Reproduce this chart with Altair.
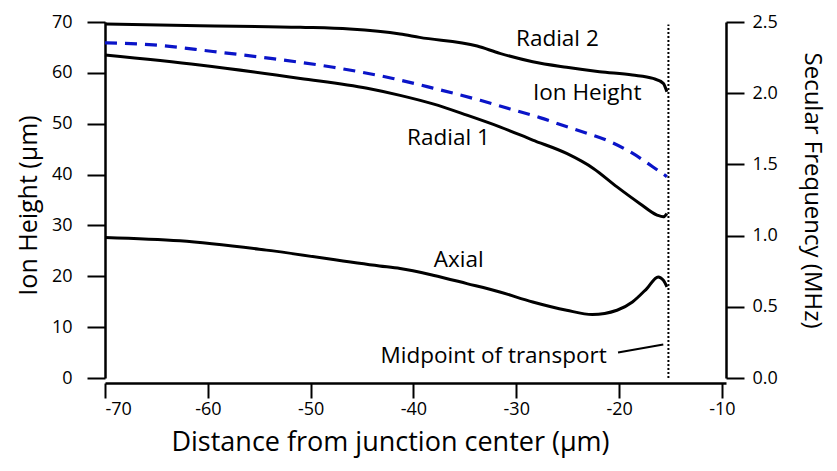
import altair as alt
import pandas as pd

FONT = "Open Sans"

# ---- data ----
# Secular frequencies (MHz)
r2_x = [-70.0, -60.8, -51.0, -46.2, -41.3, -39.4, -33.8, -31.6, -28.4, -25.1, -21.9, -18.7, -16.7, -15.7, -15.35]
r2_f = [2.486, 2.474, 2.463, 2.451, 2.416, 2.392, 2.331, 2.280, 2.221, 2.182, 2.151, 2.128, 2.104, 2.069, 2.010]

r1_x = [-70.0, -60.8, -51.0, -44.5, -41.3, -38.1, -34.8, -31.6, -28.4, -25.1, -22.5, -20.2, -18.0, -16.3, -15.7, -15.35]
r1_f = [2.268, 2.198, 2.104, 2.035, 1.985, 1.925, 1.846, 1.764, 1.671, 1.577, 1.472, 1.342, 1.226, 1.144, 1.132, 1.155]

ax_x = [-70.0, -62.7, -54.3, -43.3, -41.3, -38.1, -34.8, -31.6, -28.4, -25.1, -22.6, -20.2, -18.7, -17.3, -16.2, -15.7, -15.35]
ax_f = [0.987, 0.963, 0.898, 0.787, 0.769, 0.722, 0.663, 0.604, 0.534, 0.476, 0.446, 0.476, 0.534, 0.628, 0.710, 0.687, 0.640]

# Ion height (µm)
ih_x = [-70.0, -65.3, -59.5, -53.7, -47.8, -42.0, -38.1, -33.5, -30.6, -27.7, -25.5, -23.1, -20.9, -18.7, -16.7, -15.35]
ih_h = [65.9, 65.5, 64.2, 62.8, 61.1, 58.9, 57.0, 54.6, 52.9, 51.2, 49.7, 48.1, 46.5, 44.2, 41.5, 39.6]

# Annotations (positions in data units of the ion-height axis)
label_text = ["Radial 2", "Ion Height", "Radial 1", "Axial", "Midpoint of transport"]
label_x = [-26.0, -23.1, -36.6, -35.6, -32.2]
label_y = [65.3, 54.7, 45.8, 21.9, 3.0]

midpoint_x = [-15.2]
midpoint_y = [0.0]
midpoint_y2 = [69.5]

leader_x = [-20.1]
leader_x2 = [-15.7]
leader_y = [5.0]
leader_y2 = [6.6]

x_ticks = [-70, -60, -50, -40, -30, -20, -10]
h_ticks = [0, 10, 20, 30, 40, 50, 60, 70]
f_ticks = [0.0, 0.5, 1.0, 1.5, 2.0, 2.5]

# ---- tables ----
freq_df = pd.concat([
    pd.DataFrame({"x": r2_x, "f": r2_f, "s": "Radial 2"}),
    pd.DataFrame({"x": r1_x, "f": r1_f, "s": "Radial 1"}),
    pd.DataFrame({"x": ax_x, "f": ax_f, "s": "Axial"}),
], ignore_index=True)
ih_df = pd.DataFrame({"x": ih_x, "h": ih_h})
lab_df = pd.DataFrame({"x": label_x, "h": label_y, "t": label_text})
mid_df = pd.DataFrame({"x": midpoint_x, "h": midpoint_y, "h2": midpoint_y2})
lead_df = pd.DataFrame({"x": leader_x, "x2": leader_x2, "h": leader_y, "h2": leader_y2})

common_axis = dict(
    grid=False, domainColor="black", tickColor="black", labelColor="black",
    titleColor="black", labelFont=FONT, titleFont=FONT, labelFontSize=18,
    titleFontWeight="normal", domainWidth=2.5, tickWidth=2,
)

x_enc = alt.X(
    "x:Q",
    scale=alt.Scale(domain=[-70, -9.6], nice=False, zero=False),
    axis=alt.Axis(
        orient="bottom", values=x_ticks, offset=5, tickSize=15, labelPadding=2,
        labelExpr="'' + datum.value",
        title="Distance from junction center (µm)", titleFontSize=27,
        titleX=285, titleY=67, titleAlign="center", titleBaseline="alphabetic",
        **common_axis,
    ),
)

h_scale = alt.Scale(domain=[0, 70], nice=False, zero=False)
h_axis = alt.Axis(
    orient="left", values=h_ticks, tickSize=18, labelPadding=15,
    title="Ion Height (µm)", titleFontSize=25, titleAngle=-90, titleX=-77, titleY=183,
    titleAlign="center", titleBaseline="middle",
    **common_axis,
)
f_axis = alt.Axis(
    orient="right", values=f_ticks, format=".1f", tickSize=18, labelPadding=8,
    title="Secular Frequency (MHz)", titleFontSize=24, titleAngle=90, titleX=85, titleY=168,
    titleAlign="center", titleBaseline="middle",
    **common_axis,
)

ion = alt.Chart(ih_df).mark_line(
    color="#0a14c8", strokeWidth=3.2, strokeDash=[12, 8], interpolate="monotone"
).encode(x=x_enc, y=alt.Y("h:Q", scale=h_scale, axis=h_axis))

mid = alt.Chart(mid_df).mark_rule(color="black", strokeWidth=2, strokeDash=[2, 2]).encode(
    x=x_enc, y=alt.Y("h:Q", scale=h_scale, axis=h_axis), y2="h2:Q"
)

lead = alt.Chart(lead_df).mark_rule(color="black", strokeWidth=2).encode(
    x=x_enc, x2="x2:Q", y=alt.Y("h:Q", scale=h_scale, axis=h_axis), y2="h2:Q"
)

labels = alt.Chart(lab_df).mark_text(
    font=FONT, fontSize=22.5, color="black", align="center", baseline="alphabetic"
).encode(x=x_enc, y=alt.Y("h:Q", scale=h_scale, axis=h_axis), text="t:N")

height_group = alt.layer(ion, mid, lead, labels)

freq = alt.Chart(freq_df).mark_line(
    color="black", strokeWidth=3, interpolate="monotone"
).encode(
    x=x_enc,
    y=alt.Y("f:Q", scale=alt.Scale(domain=[0, 2.5], nice=False, zero=False), axis=f_axis),
    detail="s:N",
)

chart = alt.layer(height_group, freq).resolve_scale(y="independent").properties(
    width=621, height=356,
    autosize=alt.AutoSizeParams(type="none"),
    padding={"left": 97, "top": 14, "right": 103, "bottom": 80},
    background="white",
).configure_view(stroke=None)

chart.save("out.html", embed_options={"renderer": "svg", "actions": False})
